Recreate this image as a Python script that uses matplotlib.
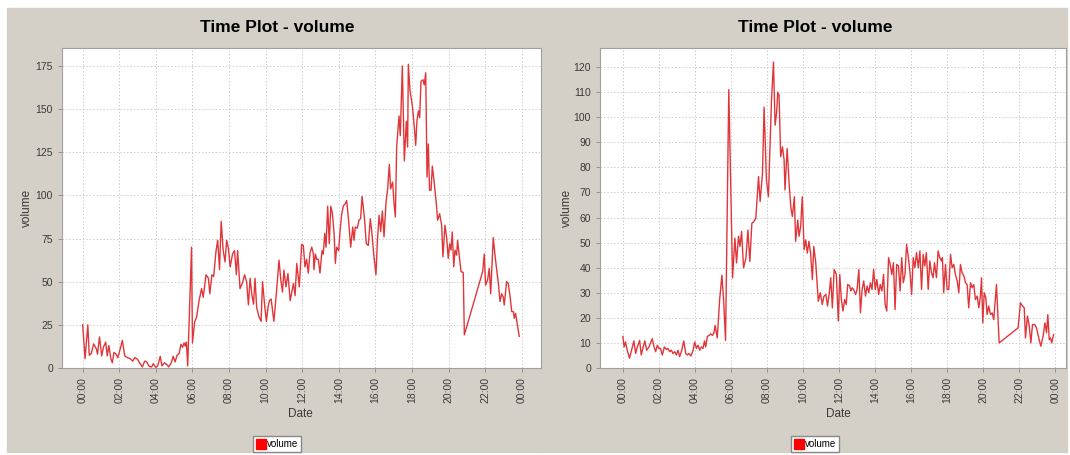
import matplotlib
matplotlib.use("Agg")
import matplotlib.pyplot as plt
from matplotlib.patches import Rectangle
from matplotlib.lines import Line2D

# time of day in hours, volume
left_hours = [
    0.0, 0.13, 0.28, 0.36, 0.47, 0.6, 0.75, 0.81, 0.92, 1.04, 1.13, 1.26, 1.34, 1.43, 1.54, 1.62,
    1.71, 1.83, 1.92, 2.0, 2.17, 2.3, 2.45, 2.6, 2.73, 2.86, 3.0, 3.14, 3.26, 3.39, 3.5, 3.63,
    3.77, 3.86, 3.99, 4.1, 4.24, 4.33, 4.46, 4.6, 4.7, 4.84, 4.95, 5.05, 5.16, 5.27, 5.37, 5.46,
    5.54, 5.61, 5.67, 5.74, 5.95, 6.0, 6.12, 6.23, 6.36, 6.5, 6.59, 6.74, 6.87, 6.95, 7.06, 7.16,
    7.29, 7.38, 7.48, 7.57, 7.68, 7.78, 7.87, 7.97, 8.06, 8.19, 8.3, 8.4, 8.47, 8.6, 8.72, 8.85,
    8.96, 9.06, 9.15, 9.25, 9.34, 9.42, 9.51, 9.64, 9.75, 9.83, 9.94, 10.04, 10.13, 10.2, 10.3,
    10.45, 10.6, 10.73, 10.83, 10.92, 11.0, 11.11, 11.22, 11.34, 11.52, 11.61, 11.7, 11.84,
    11.97, 12.06, 12.15, 12.24, 12.33, 12.43, 12.52, 12.61, 12.64, 12.72, 12.79, 12.88, 12.97,
    13.08, 13.15, 13.23, 13.3, 13.39, 13.48, 13.56, 13.65, 13.74, 13.81, 13.88, 13.99, 14.07,
    14.16, 14.25, 14.34, 14.43, 14.54, 14.65, 14.76, 14.83, 14.9, 15.01, 15.1, 15.19, 15.27,
    15.34, 15.41, 15.5, 15.61, 15.72, 15.8, 15.92, 16.03, 16.11, 16.2, 16.29, 16.38, 16.47,
    16.58, 16.67, 16.76, 16.83, 16.94, 17.02, 17.09, 17.16, 17.29, 17.36, 17.47, 17.58, 17.69,
    17.76, 17.8, 17.89, 18.02, 18.13, 18.2, 18.27, 18.35, 18.42, 18.49, 18.6, 18.67, 18.75,
    18.82, 18.89, 18.96, 19.04, 19.11, 19.22, 19.33, 19.4, 19.51, 19.62, 19.69, 19.8, 19.89,
    19.98, 20.06, 20.13, 20.2, 20.28, 20.35, 20.44, 20.49, 20.59, 20.68, 20.8, 20.86, 21.86,
    21.95, 22.02, 22.13, 22.22, 22.3, 22.44, 22.53, 22.63, 22.72, 22.81, 22.9, 22.99, 23.04,
    23.17, 23.26, 23.35, 23.45, 23.54, 23.59, 23.66, 23.86,
]
left_volume = [
    25, 5.4, 25, 7.4, 8.3, 14, 11, 8, 18, 7, 12, 15, 7, 13, 5.4, 3,
    9, 8, 6, 9, 16, 7, 6, 5.4, 4, 6, 5, 2.5, 0.6, 4, 3.5, 1,
    0.6, 2.5, 0.4, 1.2, 6.8, 1.2, 3, 2, 0.6, 3, 6.8, 3.5, 7.4, 8.3, 13.7, 12,
    14.5, 12.6, 15, 1.2, 70, 14.5, 26.7, 29.6, 39, 46, 41, 54, 52, 43, 54, 53,
    68, 74, 57, 85, 68, 61.5, 74, 69, 58.6, 66, 68, 54, 68, 46, 49, 54,
    50, 36.5, 52, 42, 37, 52, 35, 29.6, 27, 50, 37, 27, 35, 39, 40,
    27, 45, 62.5, 51, 44, 56.7, 47, 54.7, 39, 49, 42, 60.6, 47,
    71.7, 71, 58.6, 63, 55, 67, 70, 66, 57, 66, 63, 63, 55,
    68, 66, 78, 70, 93.7, 72, 93.7, 89.4, 78, 60.6, 70, 68, 79.8,
    89.4, 94, 95, 97, 84.6, 70, 81.7, 74, 81.7, 81, 85.6, 86.5, 99.4,
    93, 85.6, 72, 71, 86.5, 79, 64.4, 54, 74, 88.5, 79, 91, 76,
    96, 103.8, 118, 103.8, 107.7, 95, 87.5, 128, 146, 134.6, 175, 120, 143,
    128, 176, 160.6, 152, 139, 129, 143, 149, 145, 166, 167, 164, 171,
    110.6, 129.8, 103, 103, 117, 106.7, 95, 85.6, 89.4, 82.7, 64.4, 82.7, 76,
    63.5, 72, 68.3, 78.8, 58.6, 68.3, 65.4, 74, 64.4, 55.8, 55.4, 19.2, 55.8,
    66, 48, 51, 57.7, 43, 75.6, 66, 56.7, 49, 38.5, 43, 41, 36.5,
    50, 49, 42.3, 32.7, 32.7, 28.8, 31.7, 18.3,
]

right_hours = [
    0.0, 0.07, 0.15, 0.24, 0.37, 0.48, 0.61, 0.71, 0.8, 0.93, 1.02, 1.13, 1.22, 1.32, 1.45, 1.56,
    1.63, 1.73, 1.82, 1.91, 2.0, 2.09, 2.19, 2.3, 2.41, 2.5, 2.6, 2.69, 2.78, 2.88, 2.97, 3.06,
    3.15, 3.27, 3.38, 3.49, 3.58, 3.67, 3.78, 3.9, 3.99, 4.08, 4.17, 4.27, 4.36, 4.45, 4.53, 4.6,
    4.69, 4.79, 4.88, 4.97, 5.05, 5.12, 5.24, 5.38, 5.5, 5.6, 5.7, 5.88, 6.09, 6.22, 6.31, 6.42,
    6.5, 6.59, 6.7, 6.83, 6.94, 7.05, 7.16, 7.27, 7.38, 7.53, 7.62, 7.75, 7.84, 7.97, 8.08, 8.16,
    8.25, 8.36, 8.45, 8.53, 8.6, 8.67, 8.76, 8.86, 8.95, 9.0, 9.12, 9.23, 9.32, 9.41, 9.52, 9.59,
    9.71, 9.78, 9.87, 9.96, 10.06, 10.15, 10.24, 10.33, 10.42, 10.52, 10.6, 10.7, 10.85, 10.96,
    11.07, 11.16, 11.27, 11.36, 11.45, 11.54, 11.63, 11.73, 11.85, 11.96, 12.04, 12.13, 12.22,
    12.31, 12.4, 12.48, 12.59, 12.66, 12.73, 12.81, 12.92, 13.0, 13.1, 13.19, 13.28, 13.37,
    13.47, 13.56, 13.65, 13.74, 13.83, 13.92, 14.01, 14.1, 14.2, 14.29, 14.38, 14.47, 14.56,
    14.65, 14.75, 14.84, 14.93, 15.02, 15.11, 15.2, 15.3, 15.39, 15.48, 15.57, 15.66, 15.75,
    15.85, 15.94, 16.03, 16.12, 16.21, 16.3, 16.4, 16.49, 16.58, 16.67, 16.76, 16.85, 16.95,
    17.04, 17.13, 17.22, 17.3, 17.41, 17.5, 17.59, 17.69, 17.74, 17.81, 17.91, 18.0, 18.09,
    18.19, 18.28, 18.37, 18.46, 18.56, 18.65, 18.74, 18.83, 18.93, 19.02, 19.11, 19.2, 19.3,
    19.39, 19.48, 19.57, 19.67, 19.76, 19.85, 19.91, 19.98, 20.06, 20.15, 20.22, 20.31, 20.41,
    20.5, 20.59, 20.74, 20.89, 21.94, 22.07, 22.19, 22.28, 22.35, 22.46, 22.56, 22.65, 22.74,
    22.87, 22.96, 23.11, 23.2, 23.33, 23.43, 23.52, 23.59, 23.67, 23.74, 23.81, 23.91,
]
right_volume = [
    12.6, 8.4, 10.4, 7.1, 3.9, 7.1, 10.8, 5.8, 8.4, 11, 5.2, 8.4, 10.8, 7.1, 8.4, 10.4,
    11.7, 8.4, 6.5, 9.1, 7.8, 7.8, 5.2, 8.4, 7.4, 7.8, 6.5, 7.1, 5.8, 6.5, 5.2, 7.1,
    4.5, 7.1, 10.8, 5.8, 5.2, 5.8, 4.8, 7.1, 10.4, 7.8, 9.1, 7.1, 8.4, 7.8, 10.8, 8.4,
    12.6, 13, 13.6, 13, 13.9, 17, 12, 28, 37, 26, 11, 111, 36, 51.8, 41.9, 52.5,
    48.5, 54.4, 39.9, 43.8, 55, 42.5, 57.7, 58.4, 59.7, 76.3, 66.4, 77.6, 104, 75, 68.3, 86.9,
    106.8, 122, 96.8, 101.5, 110, 108.7, 84.2, 88.2, 83, 71, 87.5, 73.6, 64.4, 60.4, 68.3, 50.5,
    59, 52.5, 56.4, 68.3, 47.2, 51.1, 45.8, 50.5, 45.8, 35.2, 48.5, 42.5, 26.6, 30,
    25.3, 28.6, 29.3, 24.7, 29.3, 36, 24, 39.3, 37.3, 18.7, 37.3, 27.3, 22.7,
    27.3, 25.3, 33.3, 32.7, 30.7, 32, 31.3, 29.3, 31.3, 39.3, 22, 31.3, 34.7,
    28.7, 32.7, 30, 34, 31.3, 39.3, 31.3, 35.3, 29.3, 33.3, 30.7, 37.3, 25.3,
    22.7, 44, 41.3, 37.3, 42, 23.3, 41.3, 40.7, 30.7, 44, 34, 37.3, 49.3,
    44, 38, 29.3, 44, 40, 46, 40, 46.7, 31.3, 45.3, 40.7, 46, 31.3,
    42.7, 38, 36, 42, 36, 46.7, 44, 42.7, 44, 30, 41.3, 31.3, 31.3,
    45.3, 40, 41.3, 37.3, 34.7, 30, 41.3, 38, 36.7, 34, 33.3, 24, 34,
    32, 33.3, 27.3, 28.7, 24, 28.7, 36, 18, 30, 28, 21.3, 24.7, 21.3,
    22, 19.3, 33.3, 10, 16, 26, 24.7, 24, 12, 20.7, 16.7, 10, 17.3,
    17.3, 16, 11.3, 8.7, 12.7, 18, 14, 21.3, 11.3, 12, 10, 13.3,
]

hour_ticks = list(range(0, 25, 2))
hour_labels = ["%02d:00" % (h % 24) for h in hour_ticks]
left_yticks = [0, 25, 50, 75, 100, 125, 150, 175]
right_yticks = [0, 10, 20, 30, 40, 50, 60, 70, 80, 90, 100, 110, 120]

PANEL = "#d4d0c8"
LINE = "#e0363a"
GRID = "#cccccc"
TEXT = "#3a3a3a"
W, H = 1070, 455


def px(x0, y0, x1, y1):
    # pixel box (top-left origin) -> figure fraction rect
    return [x0 / W, 1 - y1 / H, (x1 - x0) / W, (y1 - y0) / H]


def draw_panel(fig, box, hours, volume, yticks, xlim, ylim, centre, ylabel_x):
    ax = fig.add_axes(px(*box))
    ax.plot(hours, volume, color=LINE, lw=1.0)
    ax.set_xlim(*xlim)
    ax.set_ylim(*ylim)
    ax.set_xticks(hour_ticks)
    ax.set_xticklabels(hour_labels, rotation=90)
    ax.set_yticks(yticks)
    ax.grid(True, color=GRID, ls=(0, (1.5, 2)), lw=0.7)
    ax.tick_params(labelsize=7.5, colors="#888888", labelcolor=TEXT, length=3, width=0.6)
    for s in ax.spines.values():
        s.set_color("#a0a0a0")
        s.set_linewidth(0.8)
    ax.set_facecolor("white")
    fig.text(centre / W, 1 - 28 / H, "Time Plot - volume", ha="center", va="center",
             fontsize=12.5, fontweight="bold", color="black")
    fig.text(centre / W + 0.022, 1 - 414 / H, "Date", ha="center", va="center",
             fontsize=8.5, color=TEXT)
    fig.text(ylabel_x / W, 1 - 208 / H, "volume", ha="center", va="center",
             rotation=90, fontsize=8.5, color=TEXT)
    handle = Line2D([], [], ls="none", marker="s", markersize=7, color="red")
    fig.legend([handle], ["volume"], loc="center", bbox_to_anchor=(centre / W, 1 - 444 / H),
               fontsize=7, frameon=True, fancybox=False, edgecolor="#888888",
               handlelength=0.9, handletextpad=0.15, borderpad=0.3, borderaxespad=0,
               framealpha=1)
    return ax


def main():
    fig = plt.figure(figsize=(W / 100, H / 100), dpi=100, facecolor="white")
    fig.patches.append(Rectangle((7 / W, 1 - 452 / H), 535 / W, 444 / H,
                                 transform=fig.transFigure, color=PANEL, zorder=-1))
    fig.patches.append(Rectangle((542 / W, 1 - 452 / H), 525 / W, 444 / H,
                                 transform=fig.transFigure, color=PANEL, zorder=-1))

    draw_panel(fig, (62, 48, 541, 368), left_hours, left_volume, left_yticks,
               (-1.13, 25.05), (0, 185.4), 277, 27)
    draw_panel(fig, (600, 48, 1066, 368), right_hours, right_volume, right_yticks,
               (-1.27, 24.6), (0, 127.6), 815, 567)

    fig.savefig("out.png", dpi=100, facecolor=fig.get_facecolor())


if __name__ == "__main__":
    plt.rcParams["font.family"] = ["Liberation Sans", "DejaVu Sans"]
    main()
